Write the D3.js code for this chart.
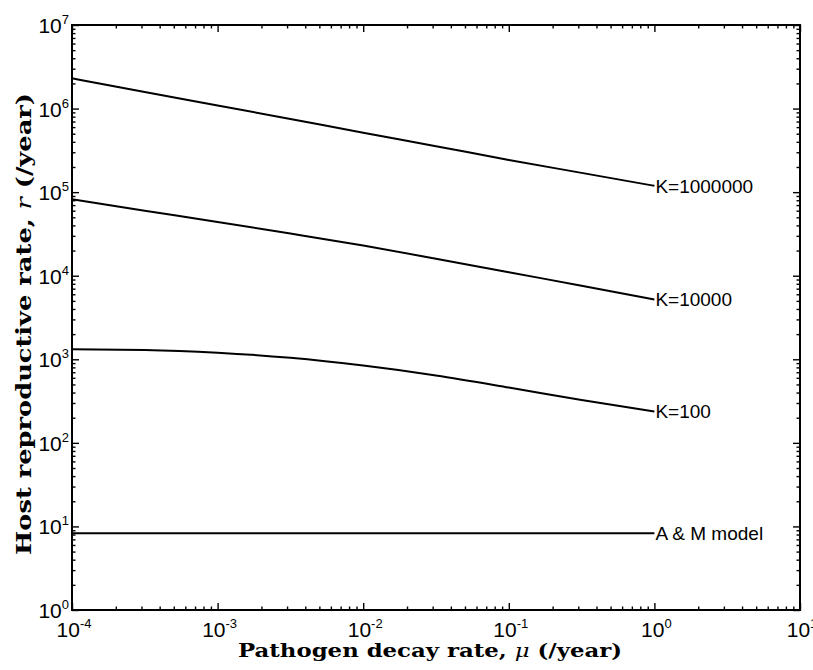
<!DOCTYPE html>
<html>
<head>
<meta charset="utf-8">
<script src="https://cdn.jsdelivr.net/npm/d3@7"></script>
<style>
  body { margin: 0; background: #fff; }
  svg { display: block; }
</style>
</head>
<body>
<div id="chart"></div>
<script>
// chart size and plot box
const width = 813;
const height = 670;
const margin = {left: 72, right: 13, top: 25, bottom: 60};

// pathogen decay rate samples (/year)
const mu = [1e-4, 3.16e-4, 1e-3, 3.16e-3, 1e-2, 3.16e-2, 1e-1, 3.16e-1, 1];

// host reproductive rate for each model
const rK1000000 = [2.30e6, 1.58e6, 1.09e6, 7.5e5, 5.14e5, 3.55e5, 2.43e5, 1.70e5, 1.19e5];
const rK10000 = [8.2e4, 6.0e4, 4.4e4, 3.2e4, 2.3e4, 1.6e4, 1.1e4, 7.6e3, 5.2e3];
const rK100 = [1318, 1295, 1200, 1040, 840, 640, 460, 325, 237];
const rAM = [8.3, 8.3, 8.3, 8.3, 8.3, 8.3, 8.3, 8.3, 8.3];

const seriesNames = ["K=1000000", "K=10000", "K=100", "A & M model"];
const seriesValues = [rK1000000, rK10000, rK100, rAM];

// tick exponents
const xExponents = [-4, -3, -2, -1, 0, 1];
const yExponents = [0, 1, 2, 3, 4, 5, 6, 7];

const svg = d3.select("#chart")
  .append("svg")
  .attr("width", width)
  .attr("height", height);

svg.append("rect")
  .attr("width", width)
  .attr("height", height)
  .attr("fill", "#fff");

const x = d3.scaleLog()
  .domain([1e-4, 10])
  .range([margin.left, width - margin.right]);

const y = d3.scaleLog()
  .domain([1, 1e7])
  .range([height - margin.bottom, margin.top]);

// minor tick values: 2..9 times each decade
const minorX = [];
xExponents.slice(0, -1).forEach(e => { for (let k = 2; k <= 9; k++) minorX.push(k * Math.pow(10, e)); });
const minorY = [];
yExponents.slice(0, -1).forEach(e => { for (let k = 2; k <= 9; k++) minorY.push(k * Math.pow(10, e)); });
const majorX = xExponents.map(e => Math.pow(10, e));
const majorY = yExponents.map(e => Math.pow(10, e));

const x0 = margin.left, x1 = width - margin.right;
const y0 = height - margin.bottom, y1 = margin.top;

// inward ticks on all four sides, like a matlab box
function addAxis(axisFn, scale, values, size, transform) {
  const g = svg.append("g")
    .attr("transform", transform)
    .call(axisFn(scale).tickValues(values).tickSize(-size).tickFormat(""));
  g.select(".domain").remove();
  g.selectAll(".tick line").attr("stroke", "#000").attr("stroke-width", 1.4);
}
addAxis(d3.axisBottom, x, majorX, 7, `translate(0,${y0})`);
addAxis(d3.axisBottom, x, minorX, 3.5, `translate(0,${y0})`);
addAxis(d3.axisTop, x, majorX, 7, `translate(0,${y1})`);
addAxis(d3.axisTop, x, minorX, 3.5, `translate(0,${y1})`);
addAxis(d3.axisLeft, y, majorY, 7, `translate(${x0},0)`);
addAxis(d3.axisLeft, y, minorY, 3.5, `translate(${x0},0)`);
addAxis(d3.axisRight, y, majorY, 7, `translate(${x1},0)`);
addAxis(d3.axisRight, y, minorY, 3.5, `translate(${x1},0)`);

// box
svg.append("rect")
  .attr("x", x0).attr("y", y1)
  .attr("width", x1 - x0).attr("height", y0 - y1)
  .attr("fill", "none")
  .attr("stroke", "#000")
  .attr("stroke-width", 2);

// tick labels with superscript exponents
const tickFont = "'Liberation Sans', Arial, sans-serif";
xExponents.forEach(e => {
  const t = svg.append("text")
    .attr("x", x(Math.pow(10, e)) + 2)
    .attr("y", y0 + 27)
    .attr("text-anchor", "middle")
    .attr("font-family", tickFont)
    .attr("font-size", 21)
    .attr("fill", "#000");
  t.append("tspan").text("10");
  t.append("tspan").attr("dy", -9).attr("font-size", 13).text(String(e));
});
yExponents.forEach(e => {
  const t = svg.append("text")
    .attr("x", x0 - 3)
    .attr("y", y(Math.pow(10, e)) + 8)
    .attr("text-anchor", "end")
    .attr("font-family", tickFont)
    .attr("font-size", 21)
    .attr("fill", "#000");
  t.append("tspan").text("10");
  t.append("tspan").attr("dy", -9).attr("font-size", 13).text(String(e));
});

// curves (smooth in log-log space)
const line = d3.line()
  .x((d, i) => x(mu[i]))
  .y(d => y(d))
  .curve(d3.curveMonotoneX);

seriesValues.forEach((vals, s) => {
  svg.append("path")
    .datum(vals)
    .attr("d", line)
    .attr("fill", "none")
    .attr("stroke", "#000")
    .attr("stroke-width", 2);

  svg.append("text")
    .attr("x", x(mu[mu.length - 1]) + 1)
    .attr("y", y(vals[vals.length - 1]))
    .attr("dy", "0.36em")
    .attr("font-family", tickFont)
    .attr("font-size", 19)
    .attr("fill", "#000")
    .text(seriesNames[s]);
});

// axis titles
const titleFont = "'DejaVu Serif', serif";
const xTitle = svg.append("text")
  .attr("x", 430)
  .attr("y", height - 13)
  .attr("text-anchor", "middle")
  .attr("font-family", titleFont)
  .attr("font-weight", "bold")
  .attr("font-size", 19)
  .attr("textLength", 384)
  .attr("lengthAdjust", "spacingAndGlyphs")
  .attr("fill", "#000");
xTitle.append("tspan").text("Pathogen decay rate, ");
xTitle.append("tspan").attr("font-style", "italic").attr("font-weight", "normal").text("μ");
xTitle.append("tspan").text(" (/year)");

const yTitle = svg.append("text")
  .attr("transform", `translate(31,${324}) rotate(-90)`)
  .attr("text-anchor", "middle")
  .attr("font-family", titleFont)
  .attr("font-weight", "bold")
  .attr("font-size", 20)
  .attr("textLength", 462)
  .attr("lengthAdjust", "spacingAndGlyphs")
  .attr("fill", "#000");
yTitle.append("tspan").text("Host reproductive rate, ");
yTitle.append("tspan").attr("font-style", "italic").attr("font-weight", "normal").text("r");
yTitle.append("tspan").text(" (/year)");
</script>
</body>
</html>
